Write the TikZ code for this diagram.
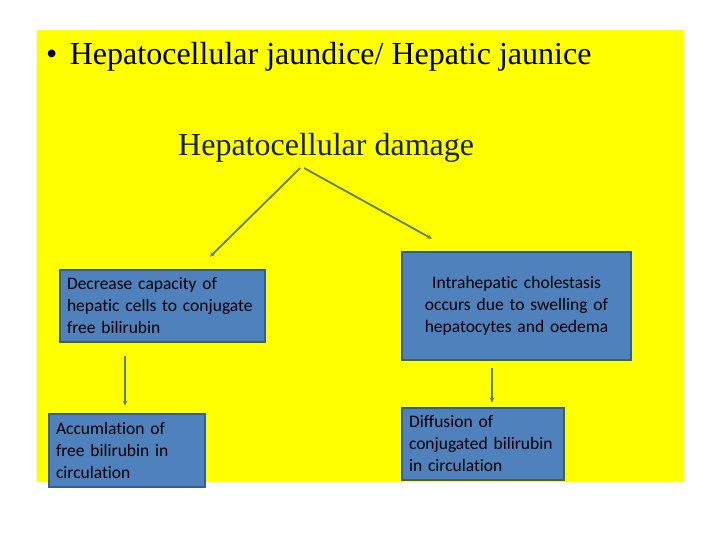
\documentclass[tikz,border=0pt]{standalone}
\usepackage{fontspec}
\setmainfont{Liberation Serif}
\newfontfamily\boxfont[Ligatures=NoCommon]{Carlito}
\usetikzlibrary{arrows.meta}
\definecolor{slideyellow}{RGB}{255,255,0}
\definecolor{boxblue}{RGB}{79,129,189}
\definecolor{boxedge}{RGB}{56,93,138}
\definecolor{arrowgreen}{RGB}{98,128,84}
\definecolor{darktext}{RGB}{20,35,20}

\begin{document}
\begin{tikzpicture}[x=1pt, y=-1pt,
  bx/.style={draw=boxedge, line width=2.5pt, fill=boxblue, inner xsep=7pt, inner ysep=0pt,
             font=\boxfont\fontsize{17.5}{22}\selectfont, text=black},
  lbx/.style={bx, align=left},
  cbx/.style={bx, align=center},
  arr/.style={draw=arrowgreen, line width=1.8pt, -{Stealth[length=5pt,width=4.5pt]}},
  hd/.style={font=\fontsize{32}{37}\selectfont, inner sep=0pt, anchor=base west},
]
  \useasboundingbox (0,0) rectangle (720,540);
  \fill[white] (0,0) rectangle (720,540);
  \fill[slideyellow] (37,30) rectangle (684,482);

  \node[hd] (ttl) at (46,65)            {\textbullet\hspace{12.5pt}Hepatocellular jaundice/ Hepatic jaunice};
  \node[hd, text=darktext] (dmg) at (178,156) {Hepatocellular damage};

  \node[lbx, minimum width=205, minimum height=72, text width=191pt] (dec) at (162.5,306)
                                        {Decrease capacity of\\ hepatic cells to conjugate\\ free bilirubin};
  \node[cbx, minimum width=229, minimum height=108, text width=215pt] (chol) at (516.5,306)
                                        {Intrahepatic cholestasis\\ occurs due to swelling of\\ hepatocytes and oedema};
  \node[lbx, minimum width=156, minimum height=73, text width=142pt] (acc) at (127,450.5)
                                        {Accumlation of\\ free bilirubin in\\ circulation};
  \node[lbx, minimum width=162, minimum height=72, text width=148pt] (dif) at (483,444)
                                        {Diffusion of\\ conjugated bilirubin\\ in circulation};

  \draw[arr] ([xshift=-26pt,yshift=-5pt]dmg.south) -- ([xshift=47.5pt,yshift=12pt]dec.north);
  \draw[arr] ([xshift=-22pt,yshift=-5pt]dmg.south) -- ([xshift=-84.5pt,yshift=12pt]chol.north);
  \draw[arr] ([xshift=-37.5pt,yshift=-13pt]dec.south) -- ([xshift=-2pt,yshift=7pt]acc.north);
  \draw[arr] ([xshift=-24.5pt,yshift=-7pt]chol.south) -- ([xshift=9pt,yshift=4pt]dif.north);
\end{tikzpicture}
\end{document}
